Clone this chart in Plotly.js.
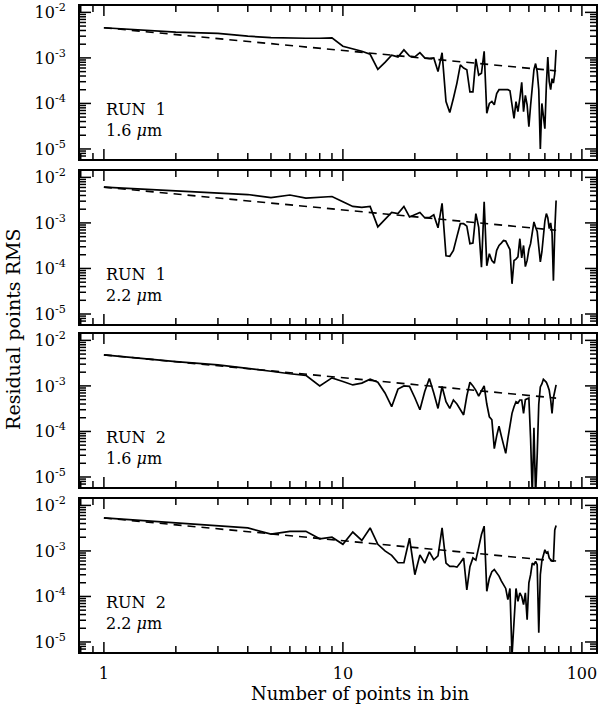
<!DOCTYPE html>
<html>
<head>
<meta charset="utf-8">
<script src="https://cdn.plot.ly/plotly-3.0.1.min.js"></script>
<style>
  body { margin: 0; background: #fff; }
  #chart { width: 600px; height: 706px; }
</style>
</head>
<body>
<div id="chart"></div>
<script>
// number of points per bin (same for every run)
var nBin = [];
for (var k = 1; k <= 78; k++) nBin.push(k);

// RUN 1, 1.6 um
var run1a = [4.6e-3, 3.7e-3, 3.45e-3, 3.0e-3, 2.8e-3, 2.7e-3, 2.7e-3, 2.7e-3, 2.75e-3, 1.8e-3,
  1.6e-3, 1.4e-3, 1.2e-3, 5.6e-4, 8.0e-4, 1.15e-3, 1.05e-3, 1.5e-3, 1.1e-3, 1.05e-3,
  1.3e-3, 1.0e-3, 9.8e-4, 1.0e-3, 5.0e-4, 1.3e-3, 1.1e-4, 6.3e-5, 1.3e-4, 2.8e-4,
  7.0e-4, 6.0e-4, 5.5e-4, 1.8e-4, 1.8e-4, 9.5e-4, 4.2e-4, 4.6e-4, 1.4e-3, 6.1e-5,
  1.0e-4, 1.1e-4, 9.3e-5, 1.65e-4, 2.0e-4, 2.0e-4, 2.0e-4, 2.0e-4, 2.0e-4, 1.9e-4,
  9.3e-5, 4.7e-5, 1.1e-4, 6.6e-5, 1.3e-4, 2.9e-4, 6.6e-5, 1.5e-4, 9.3e-5, 3.1e-5,
  9.0e-5, 2.5e-4, 5.5e-4, 7.5e-4, 5.0e-4, 2.0e-4, 1.0e-5, 1.0e-4, 6.0e-5, 2.8e-5,
  2.5e-4, 1.05e-3, 3.0e-4, 2.0e-4, 3.5e-4, 2.8e-4, 4.5e-4, 1.5e-3];

// RUN 1, 2.2 um
var run1b = [6.1e-3, 5.0e-3, 4.5e-3, 4.2e-3, 3.6e-3, 4.1e-3, 3.5e-3, 3.6e-3, 3.8e-3, 2.9e-3,
  2.3e-3, 2.2e-3, 2.3e-3, 8.2e-4, 1.2e-3, 1.7e-3, 1.6e-3, 2.3e-3, 1.35e-3, 1.5e-3,
  1.7e-3, 1.3e-3, 1.3e-3, 1.5e-3, 7.8e-4, 2.7e-3, 1.9e-4, 1.85e-4, 2.5e-4, 5.0e-4,
  9.6e-4, 9.6e-4, 8.5e-4, 3.5e-4, 3.6e-4, 1.6e-3, 8.0e-4, 1.07e-4, 2.9e-3, 1.15e-4,
  2.1e-4, 1.5e-4, 1.3e-4, 2.5e-4, 3.2e-4, 3.6e-4, 4.1e-4, 4.0e-4, 3.3e-4, 2.6e-4,
  4.6e-5, 1.5e-4, 1.6e-4, 1.8e-4, 4.5e-4, 1.7e-4, 3.2e-4, 1.1e-4, 1.5e-4, 2.6e-4,
  3.5e-4, 5.5e-4, 1.05e-3, 8.0e-4, 6.5e-4, 3.0e-4, 1.4e-4, 2.3e-4, 5.5e-4, 1.1e-3,
  1.6e-3, 1.3e-3, 7.5e-4, 1.0e-3, 6.0e-4, 5.4e-5, 6.8e-4, 3.1e-3];

// RUN 2, 1.6 um
var run2a = [4.8e-3, 3.4e-3, 2.9e-3, 2.45e-3, 2.1e-3, 1.85e-3, 1.7e-3, 1.0e-3, 1.5e-3, 1.25e-3,
  1.05e-3, 1.15e-3, 1.4e-3, 1.2e-3, 7.0e-4, 3.5e-4, 8.5e-4, 1.0e-3, 9.8e-4, 5.5e-4,
  3.0e-4, 7.5e-4, 1.45e-3, 7.0e-4, 3.2e-4, 9.7e-4, 4.5e-4, 3.2e-4, 4.9e-4, 4.0e-4,
  3.0e-4, 2.3e-4, 6.0e-4, 1.2e-3, 1.0e-3, 8.0e-4, 6.0e-4, 8.0e-4, 1.0e-3, 4.0e-4,
  2.1e-4, 1.8e-4, 4.2e-5, 8.0e-5, 1.3e-4, 8.0e-5, 5.0e-5, 3.3e-5, 7.0e-5, 1.5e-4,
  2.5e-4, 3.5e-4, 4.5e-4, 4.2e-4, 4.9e-4, 4.9e-4, 2.5e-4, 5.0e-4, 5.2e-4, 5.4e-4,
  7.0e-5, 4.0e-6, 1.2e-4, 4.0e-6, 3.0e-5, 4.0e-4, 9.5e-4, 1.1e-3, 1.4e-3, 1.3e-3,
  1.2e-3, 1.0e-3, 8.0e-4, 5.0e-4, 2.5e-4, 5.5e-4, 8.0e-4, 1.05e-3];

// RUN 2, 2.2 um
var run2b = [5.3e-3, 4.1e-3, 3.6e-3, 3.2e-3, 2.35e-3, 2.7e-3, 2.7e-3, 1.85e-3, 2.0e-3, 1.4e-3,
  2.6e-3, 1.7e-3, 3.2e-3, 1.4e-3, 1.0e-3, 8.0e-4, 5.5e-4, 5.5e-4, 1.9e-3, 3.0e-4,
  8.2e-4, 5.4e-4, 9.5e-4, 6.4e-4, 7.8e-4, 3.2e-3, 5.4e-4, 4.6e-4, 4.6e-4, 4.4e-4,
  5.5e-4, 7.0e-4, 1.4e-4, 4.5e-4, 7.0e-4, 6.3e-4, 1.2e-3, 2.3e-3, 3.5e-3, 1.3e-4,
  2.5e-4, 3.5e-4, 3.9e-4, 3.3e-4, 2.8e-4, 2.2e-4, 1.8e-4, 1.5e-4, 8.5e-5, 1.5e-4,
  5.0e-6, 3.3e-5, 1.5e-4, 7.8e-5, 1.2e-4, 1.0e-4, 6.6e-5, 1.2e-4, 3.1e-5, 2.0e-4,
  3.0e-4, 5.4e-4, 5.0e-4, 5.9e-4, 5.0e-4, 1.6e-5, 3.0e-4, 6.0e-4, 8.0e-4, 1.06e-3,
  9.0e-4, 9.5e-4, 7.0e-4, 6.3e-4, 6.0e-4, 6.0e-4, 2.9e-3, 3.6e-3];

// dashed reference lines (end points)
var fitN = [1, 78];
var fit1a = [4.6e-3, 5.2e-4];
var fit1b = [6.1e-3, 6.9e-4];
var fit2a = [4.8e-3, 5.4e-4];
var fit2b = [5.3e-3, 6.0e-4];

var runs = [run1a, run1b, run2a, run2b];
var fits = [fit1a, fit1b, fit2a, fit2b];
var labels = ['RUN\u00a0\u00a01<br>1.6\u00a0<i>\u03bc</i>m', 'RUN\u00a0\u00a01<br>2.2\u00a0<i>\u03bc</i>m',
              'RUN\u00a0\u00a02<br>1.6\u00a0<i>\u03bc</i>m', 'RUN\u00a0\u00a02<br>2.2\u00a0<i>\u03bc</i>m'];

var xMajor = [1, 10, 100];
var yMajor = [1e-5, 1e-4, 1e-3, 1e-2];

var xRange = [-0.1, 2.059];
var yRange = [-5.22, -1.86];
var domains = [[0.7632, 1], [0.5077, 0.7446], [0.2554, 0.4923], [0, 0.2368]];
var pxPerDecX = 516 / (xRange[1] - xRange[0]);
var pxPerDecY = 153 / (yRange[1] - yRange[0]);

// minor tick positions
var xMinor = [], yMinor = [];
for (var d = -1; d <= 2; d++) {
  for (var m = 2; m <= 9; m++) xMinor.push(m * Math.pow(10, d));
}
for (var d = -6; d <= -2; d++) {
  for (var m = 2; m <= 9; m++) yMinor.push(m * Math.pow(10, d));
}

// tick marks on all four frame sides, as one line trace per panel
function tickTrace(sfx) {
  var tx = [], ty = [];
  var yLo = Math.pow(10, yRange[0]), yHi = Math.pow(10, yRange[1]);
  var xLo = Math.pow(10, xRange[0]), xHi = Math.pow(10, xRange[1]);
  function xt(v, len) {
    var lv = Math.log10(v);
    if (lv <= xRange[0] || lv >= xRange[1]) return;
    var f = Math.pow(10, len / pxPerDecY);
    tx.push(v, v, null, v, v, null);
    ty.push(yLo, yLo * f, null, yHi, yHi / f, null);
  }
  function yt(v, len) {
    var lv = Math.log10(v);
    if (lv <= yRange[0] || lv >= yRange[1]) return;
    var f = Math.pow(10, len / pxPerDecX);
    tx.push(xLo, xLo * f, null, xHi, xHi / f, null);
    ty.push(v, v, null, v, v, null);
  }
  xMajor.forEach(function (v) { xt(v, 10); });
  xMinor.forEach(function (v) { xt(v, 6); });
  yMajor.forEach(function (v) { yt(v, 11); });
  yMinor.forEach(function (v) { yt(v, 6); });
  return {
    x: tx, y: ty, xaxis: 'x' + sfx, yaxis: 'y' + sfx,
    type: 'scatter', mode: 'lines', connectgaps: false, hoverinfo: 'skip',
    line: {color: '#000', width: 1.5}
  };
}

var data = [];
var layout = {
  width: 600,
  height: 706,
  margin: {l: 80, r: 4, t: 6, b: 54},
  showlegend: false,
  font: {family: 'DejaVu Serif', color: '#000', size: 14},
  annotations: []
};

for (var i = 0; i < 4; i++) {
  var sfx = i === 0 ? '' : String(i + 1);
  data.push(tickTrace(sfx));
  data.push({
    x: nBin, y: runs[i], xaxis: 'x' + sfx, yaxis: 'y' + sfx,
    type: 'scatter', mode: 'lines',
    line: {color: '#000', width: 1.7}
  });
  data.push({
    x: fitN, y: fits[i], xaxis: 'x' + sfx, yaxis: 'y' + sfx,
    type: 'scatter', mode: 'lines',
    line: {color: '#000', width: 1.6, dash: '8px,6px'}
  });

  layout['xaxis' + sfx] = {
    type: 'log',
    range: xRange,
    anchor: 'y' + sfx,
    showgrid: false, zeroline: false,
    showline: true, linecolor: '#000', linewidth: 2, mirror: true,
    ticks: '',
    tickmode: 'array',
    tickvals: xMajor,
    ticktext: ['1', '10', '100'],
    showticklabels: i === 3,
    ticklabelstandoff: 6,
    tickfont: {size: 16}
  };
  layout['yaxis' + sfx] = {
    type: 'log',
    range: yRange,
    domain: domains[i],
    anchor: 'x' + sfx,
    showgrid: false, zeroline: false,
    showline: true, linecolor: '#000', linewidth: 2, mirror: true,
    ticks: '',
    tickmode: 'array',
    tickvals: yMajor,
    ticktext: ['10<sup>-5</sup>', '10<sup>-4</sup>', '10<sup>-3</sup>', '10<sup>-2</sup>'],
    tickfont: {size: 16},
    ticklabelstandoff: 9
  };

  layout.annotations.push({
    xref: 'x' + sfx, yref: 'y' + sfx,
    x: 0, y: -4.36,
    xanchor: 'left', yanchor: 'middle', align: 'left',
    showarrow: false,
    text: labels[i],
    font: {size: 16, color: '#000'}
  });
}

// axis titles
layout.annotations.push({
  xref: 'paper', yref: 'paper',
  x: 0.543, y: -0.0635,
  xanchor: 'center', yanchor: 'middle',
  showarrow: false,
  text: 'Number of points in bin',
  font: {size: 18, color: '#000'}
});
layout.annotations.push({
  xref: 'paper', yref: 'paper',
  x: -0.13, y: 0.5,
  xanchor: 'center', yanchor: 'middle',
  textangle: -90,
  showarrow: false,
  text: 'Residual points RMS',
  font: {size: 19, color: '#000'}
});

Plotly.newPlot('chart', data, layout, {displayModeBar: false, staticPlot: true});
</script>
</body>
</html>
